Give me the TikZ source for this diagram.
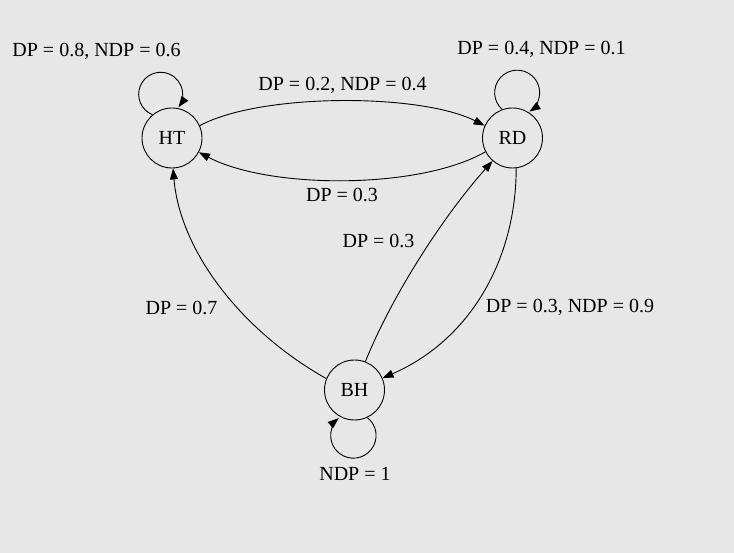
\documentclass[tikz,border=0pt]{standalone}
\usepackage{fontspec}
\setmainfont{Liberation Serif}
\usetikzlibrary{arrows.meta}
\definecolor{bgcol}{RGB}{231,231,231}
\begin{document}
\begin{tikzpicture}[x=1pt,y=1pt,
  state/.style={draw,circle,minimum size=60pt,inner sep=0pt,line width=0.9pt},
  arr/.style={line width=0.9pt,-{Triangle[length=11pt,width=8pt]}},
  lbl/.style={anchor=base,inner sep=0pt},
  font=\fontsize{20}{24}\selectfont]
\fill[bgcol] (0,0) rectangle (734,-553);
\useasboundingbox (0,0) rectangle (734,-553);
\node[state] (HT) at (172,-138) {HT};
\node[state] (RD) at (512.5,-138) {RD};
\node[state] (BH) at (354.5,-390) {BH};
% edges
\draw[arr] (HT.24) .. controls (260,-93) and (420,-93) .. (RD.156);
\draw[arr] (RD.207) .. controls (420,-189.5) and (270,-189.5) .. (HT.332);
\draw[arr] (BH.69) .. controls (390,-300) and (440,-220) .. (RD.229);
\draw[arr] (RD.277) .. controls (516,-260) and (470,-340) .. (BH.23);
\draw[arr] (BH.158) .. controls (240,-330) and (180,-250) .. (HT.272);
% loops
\draw[arr] (HT.130) arc[start angle=248, end angle=-36, radius=22];
\draw[arr] (RD.110) arc[start angle=228, end angle=-57, radius=22.5];
\draw[arr] (BH.-65) arc[start angle=52, end angle=-230, radius=22.7];
% labels
\node[lbl] (l1) at (96.5,-57) {DP = 0.8, NDP = 0.6};
\node[lbl] (l2) at (541.5,-55) {DP = 0.4, NDP = 0.1};
\node[lbl] (l3) at (342.5,-91) {DP = 0.2, NDP = 0.4};
\node[lbl] (l4) at (342,-202) {DP = 0.3};
\node[lbl] (l5) at (378.5,-248) {DP = 0.3};
\node[lbl] (l6) at (570,-313) {DP = 0.3, NDP = 0.9};
\node[lbl] (l7) at (181.5,-315) {DP = 0.7};
\node[lbl] (l8) at (355,-480) {NDP = 1};
\end{tikzpicture}
\end{document}
